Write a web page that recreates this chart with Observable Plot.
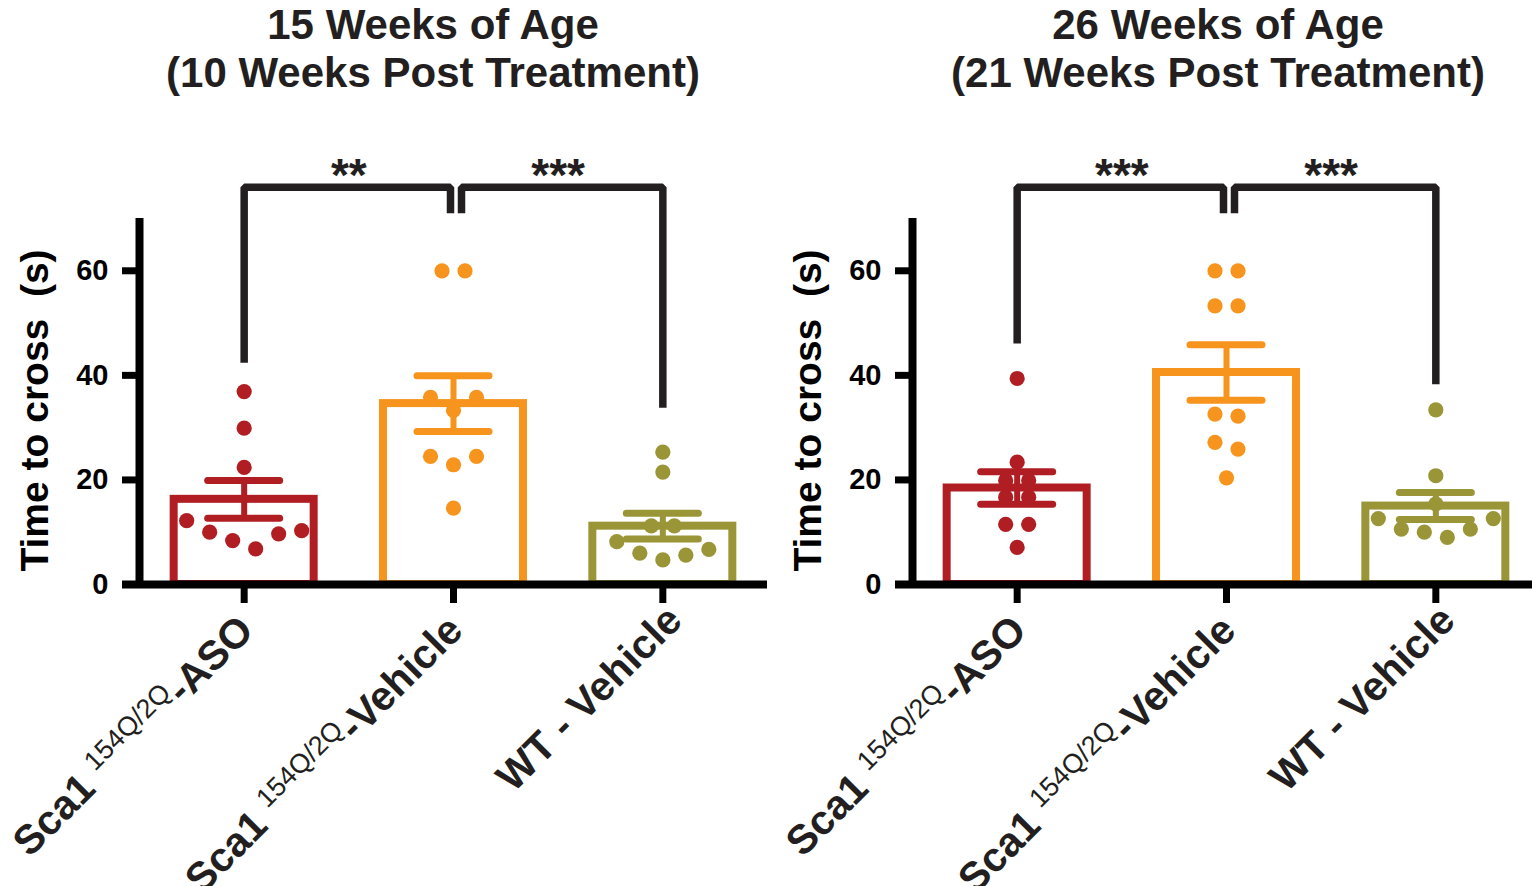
<!DOCTYPE html>
<html>
<head>
<meta charset="utf-8">
<script src="https://cdn.jsdelivr.net/npm/d3@7"></script>
<script src="https://cdn.jsdelivr.net/npm/@observablehq/plot@0.6"></script>
<style>
  html, body { margin: 0; padding: 0; background: #fff; overflow: hidden; }
  #wrap { position: relative; width: 1532px; height: 886px; overflow: hidden; background: #fff; }
  .title { position: absolute; top: 1px; font-family: "Liberation Sans", Arial, Helvetica, sans-serif;
           font-weight: bold; font-size: 42px; line-height: 48px; text-align: center; color: #231f20; white-space: nowrap; }
  .panel { position: absolute; top: 100px; width: 773px; height: 786px; }
  .panel svg { display: block; overflow: visible; max-width: none !important; width: 773px; height: 786px; }
</style>
</head>
<body>
<div id="wrap"></div>
<script>
// ---------------- data ----------------
const groupKeys   = ["Sca1 154Q/2Q-ASO", "Sca1 154Q/2Q-Vehicle", "WT - Vehicle"];
const labelBase   = ["Sca1\u00a0", "Sca1\u00a0", "WT - Vehicle"];
const labelSup    = ["154Q/2Q", "154Q/2Q", ""];
const labelTail   = ["-ASO", "-Vehicle", ""];
const groupColors = ["#b01e24", "#f7941d", "#9a9638"];

const yTicks = [0, 20, 40, 60];
const yMax = 70;
const yTitle = "Time to cross\u00a0\u00a0(s)";

// Panel 1: 15 weeks of age
const title15   = ["15 Weeks of Age", "(10 Weeks Post Treatment)"];
const aso15     = [36.9, 29.9, 22.4, 12.2, 10.3, 10.0, 9.7, 8.4, 6.8];
const vehicle15 = [60, 60, 35.8, 35.8, 33.3, 24.5, 24.5, 22.9, 14.6];
const wt15      = [25.3, 21.5, 11.2, 11.2, 8.2, 6.7, 6.0, 5.6, 4.7];
const stars15   = ["**", "***"];
const legs15    = [[42.4, 71.0], [71.0, 33.8]];   // bracket leg ends (left, right)

// Panel 2: 26 weeks of age
const title26   = ["26 Weeks of Age", "(21 Weeks Post Treatment)"];
const aso26     = [39.4, 23.4, 19.9, 19.9, 16.7, 16.7, 11.5, 11.5, 7.1];
const vehicle26 = [60, 60, 53.3, 53.3, 32.6, 32.2, 27.2, 25.9, 20.4];
const wt26      = [33.4, 20.8, 15.4, 12.6, 12.6, 10.6, 10.6, 10.0, 9.0];
const stars26   = ["***", "***"];
const legs26    = [[46.1, 71.0], [71.0, 38.3]];

const comparisons = [[0, 1], [1, 2]];
const bracketTop = 76;

// ---------------- layout ----------------
const FONT = '"Liberation Sans", Arial, Helvetica, sans-serif';
const W = 773, H = 786, ML = 139, MR = 6, MT = 118, MB = 302;
const xDomain = [-0.5, 2.5];
const kx = (W - ML - MR) / (xDomain[1] - xDomain[0]);   // px per x unit
const ky = (H - MT - MB) / yMax;                         // px per y unit
const barHalf = 70 / kx, capHalf = 36 / kx, innerGapL = 3 / kx, innerGapR = 8 / kx;
const rowGap = 14, slot = 23;                            // px, scatter spreading
const labelAlong = [-26, -26, -12], labelPerp = 42;       // px offsets of rotated labels
const INK = "#231f20";

// GraphPad-like horizontal spreading of points with close values
function spread(values) {
  const order = d3.range(values.length).sort((a, b) => values[b] - values[a]);
  const off = new Array(values.length).fill(0);
  const rows = []; let cur = [];
  order.forEach((idx, k) => {
    if (k > 0 && (values[order[k - 1]] - values[idx]) * ky >= rowGap) { rows.push(cur); cur = []; }
    cur.push(idx);
  });
  rows.push(cur);
  for (const row of rows) {
    const n = row.length, slots = [];
    for (let s = (n - 1) / 2; s > 0; s -= 1) slots.push(-s, s);
    if (n % 2) slots.push(0);
    row.forEach((idx, k) => off[idx] = slots[k] * slot / kx);
  }
  return off;
}

function makePanel(left, titleLines, titleCenter, series, stars, legs) {
  const wrap = document.getElementById("wrap");
  const t = document.createElement("div");
  t.className = "title";
  t.style.left = (titleCenter - 450) + "px";
  t.style.width = "900px";
  t.innerHTML = titleLines.join("<br>");
  wrap.appendChild(t);

  const summary = series.map((vals, i) => {
    const m = d3.mean(vals), se = d3.deviation(vals) / Math.sqrt(vals.length);
    return {i, mean: m, lo: m - se, hi: m + se};
  });
  const points = series.flatMap((vals, i) => {
    const off = spread(vals);
    return vals.map((v, k) => ({i, v, x: i + off[k]}));
  });
  const bracketPts = comparisons.flatMap(([a, b], j) => {
    const xa = a + (a === 1 ? innerGapR : 0);
    const xb = b - (b === 1 ? innerGapL : 0);
    return [
      {id: j, x: xa, y: legs[j][0]}, {id: j, x: xa, y: bracketTop},
      {id: j, x: xb, y: bracketTop}, {id: j, x: xb, y: legs[j][1]}
    ];
  });
  const starData = comparisons.map(([a, b], j) => ({s: stars[j], x: (a + b) / 2}));

  const labelMarks = d3.range(3).map(k => Plot.text([k], {
    x: d => d, frameAnchor: "bottom", text: d => groupKeys[d],
    rotate: -45, textAnchor: "end", lineAnchor: "bottom",
    dx: (labelAlong[k] + labelPerp) * Math.SQRT1_2,
    dy: (-labelAlong[k] + labelPerp) * Math.SQRT1_2,
    fontSize: 41, fontWeight: "bold", fill: INK
  }));

  const svg = Plot.plot({
    width: W, height: H, marginLeft: ML, marginRight: MR, marginTop: MT, marginBottom: MB,
    x: {domain: xDomain, label: null},
    y: {domain: [0, yMax], label: null},
    color: {type: "identity"},
    style: {fontFamily: FONT, color: "#000", background: "transparent", overflow: "visible"},
    marks: [
      Plot.rectY(summary, {x1: d => d.i - barHalf, x2: d => d.i + barHalf, y1: 0, y2: "mean",
        fill: "none", stroke: d => groupColors[d.i], strokeWidth: 8}),
      Plot.dot(points, {x: "x", y: "v", r: 7.6, fill: d => groupColors[d.i], stroke: null}),
      Plot.ruleX(summary, {x: "i", y1: "lo", y2: "hi", stroke: d => groupColors[d.i], strokeWidth: 6}),
      Plot.ruleY(summary, {x1: d => d.i - capHalf, x2: d => d.i + capHalf, y: "hi",
        stroke: d => groupColors[d.i], strokeWidth: 7, strokeLinecap: "round"}),
      Plot.ruleY(summary, {x1: d => d.i - capHalf, x2: d => d.i + capHalf, y: "lo",
        stroke: d => groupColors[d.i], strokeWidth: 7, strokeLinecap: "round"}),
      Plot.line(bracketPts, {x: "x", y: "y", z: "id", stroke: INK, strokeWidth: 7.5,
        strokeLinejoin: "miter", strokeLinecap: "butt", curve: "linear"}),
      Plot.text(starData, {x: "x", y: bracketTop, text: "s", fontSize: 46, fontWeight: "bold",
        lineAnchor: "bottom", dy: 4, fill: INK}),
      Plot.ruleX([xDomain[0]], {stroke: "#000", strokeWidth: 8}),
      Plot.ruleY([0], {stroke: "#000", strokeWidth: 8, insetLeft: -17}),
      Plot.axisY({ticks: yTicks, tickSize: 17, tickPadding: 14, stroke: "#000", strokeWidth: 7,
        fontSize: 29, fontWeight: "bold", fill: "#000", label: null}),
      Plot.axisX({ticks: [0, 1, 2], tickSize: 19, stroke: "#000", strokeWidth: 7,
        tickFormat: () => "", label: null}),
      Plot.text([yTitle], {frameAnchor: "left", rotate: -90, textAnchor: "middle", lineAnchor: "bottom",
        dx: -92, dy: 9, fontSize: 39, fontWeight: "bold", fill: "#000"}),
      ...labelMarks
    ]
  });

  // superscripts in the category labels (found by their text)
  d3.select(svg).selectAll("text").each(function() {
    const k = groupKeys.indexOf(this.textContent);
    if (k < 0 || !labelSup[k]) return;
    const t = d3.select(this);
    t.text(null);
    t.append("tspan").text(labelBase[k]);
    t.append("tspan").attr("font-size", 27).attr("font-weight", "normal").attr("dy", -15).text(labelSup[k]);
    t.append("tspan").attr("dy", 15).text(labelTail[k]);
  });

  const holder = document.createElement("div");
  holder.className = "panel";
  holder.style.left = left + "px";
  holder.appendChild(svg);
  wrap.appendChild(holder);
}

makePanel(0, title15, 433, [aso15, vehicle15, wt15], stars15, legs15);
makePanel(773, title26, 1218, [aso26, vehicle26, wt26], stars26, legs26);
</script>
</body>
</html>
